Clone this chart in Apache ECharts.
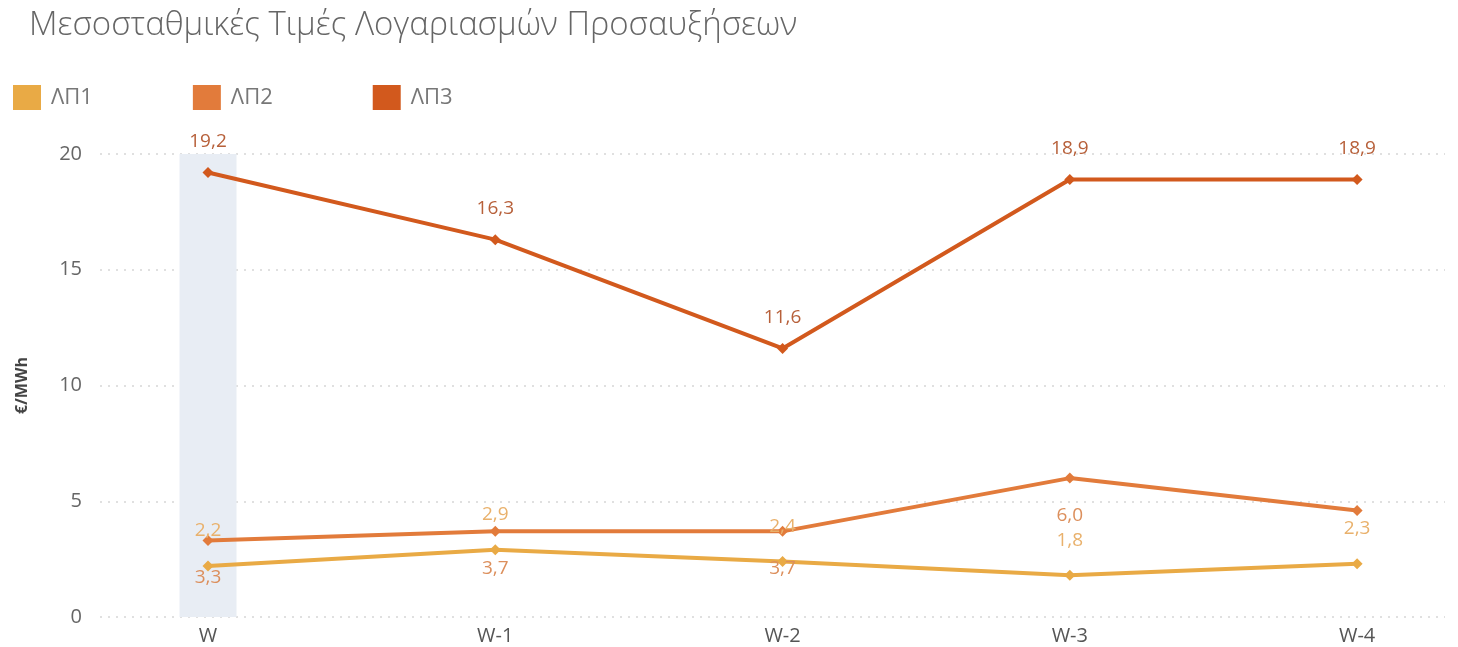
<!DOCTYPE html>
<html>
<head>
<meta charset="utf-8">
<script src="https://cdn.jsdelivr.net/npm/echarts@6/dist/echarts.min.js"></script>
<style>
  html, body { margin: 0; padding: 0; background: #fff; }
  #chart { width: 1458px; height: 647px; }
</style>
</head>
<body>
<div id="chart"></div>
<script>
const categories = ['W', 'W-1', 'W-2', 'W-3', 'W-4']
const seriesNames = ['ΛΠ1', 'ΛΠ2', 'ΛΠ3']
const lp1 = [2.2, 2.9, 2.4, 1.8, 2.3]
const lp2 = [3.3, 3.7, 3.7, 6.0, 4.6]
const lp3 = [19.2, 16.3, 11.6, 18.9, 18.9]
const yTicks = [0, 5, 10, 15, 20]
const highlighted = [[0, 20]] // selected column W

const colors = ['#E9AA45', '#E27B3B', '#D2591D']
const labelColors = ['#E9B16C', '#DC8F5C', '#B7603A']

const fmt = v => v.toFixed(1).replace('.', ',')

const lineSeries = (name, values, idx, pos, dist, hideIdx) => ({
  name,
  type: 'line',
  z: 3,
  symbol: 'diamond',
  symbolSize: 11,
  lineStyle: { width: 4, color: colors[idx] },
  itemStyle: { color: colors[idx] },
  label: {
    show: true,
    position: pos,
    distance: dist,
    fontSize: 19,
    fontFamily: 'Open Sans',
    color: labelColors[idx],
    formatter: p => (hideIdx === p.dataIndex ? '' : fmt(p.value[1])),
  },
  data: values.map((v, i) => [i, v]),
})

const chart = echarts.init(document.getElementById('chart'))
chart.setOption({
  animation: false,
  title: {
    text: 'Μεσοσταθμικές Τιμές Λογαριασμών Προσαυξήσεων',
    left: 24,
    top: 4,
    textStyle: { fontFamily: 'Open Sans', fontWeight: 300, fontSize: 33, color: '#666' },
  },
  legend: {
    data: seriesNames,
    left: 13,
    top: 85,
    padding: 0,
    icon: 'rect',
    itemWidth: 28,
    itemHeight: 25,
    itemGap: 100,
    textStyle: { fontFamily: 'Open Sans', fontSize: 22, color: '#777', padding: [0, 0, 0, 5] },
  },
  grid: { left: 100, right: 13, top: 154, bottom: 30 },
  xAxis: {
    type: 'value',
    min: -0.376,
    max: 4.306,
    axisLine: { show: false },
    axisTick: { show: false },
    splitLine: { show: false },
    axisLabel: {
      customValues: categories.map((c, i) => i),
      formatter: v => categories[v],
      fontFamily: 'Open Sans',
      fontSize: 20,
      color: '#555',
      margin: 9,
    },
  },
  yAxis: {
    type: 'value',
    min: yTicks[0],
    max: yTicks[yTicks.length - 1],
    interval: 5,
    name: '€/MWh',
    nameLocation: 'middle',
    nameGap: 70,
    nameTextStyle: { fontFamily: 'Open Sans', fontWeight: 'bold', fontSize: 16, color: '#444' },
    axisLine: { show: false },
    axisTick: { show: false },
    axisLabel: { fontFamily: 'Open Sans', fontSize: 20, color: '#666', margin: 18 },
    splitLine: { lineStyle: { color: '#d6d6d6', type: [2, 6], width: 1.5 } },
  },
  series: [
    {
      name: 'highlight',
      type: 'bar',
      silent: true,
      z: 1,
      barWidth: 57,
      itemStyle: { color: '#E8EDF4' },
      data: highlighted,
    },
    lineSeries(seriesNames[0], lp1, 0, 'top', 20),
    lineSeries(seriesNames[1], lp2, 1, 'bottom', 22, 4),
    lineSeries(seriesNames[2], lp3, 2, 'top', 16),
  ],
})
</script>
</body>
</html>
